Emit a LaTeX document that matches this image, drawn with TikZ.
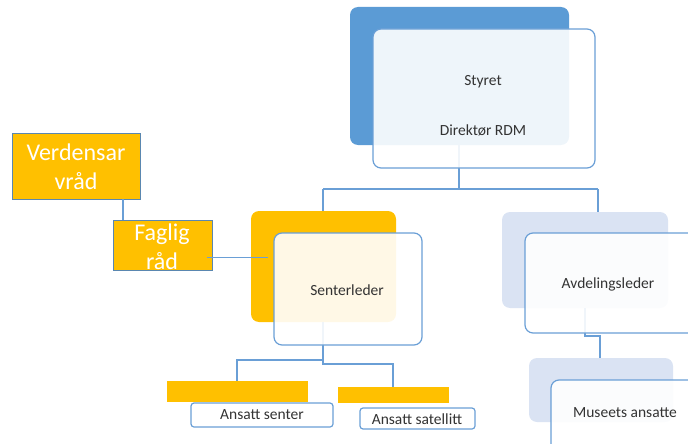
\documentclass[tikz,border=0pt]{standalone}
\usepackage{fontspec}
\setmainfont{Carlito}
\definecolor{dblue}{HTML}{5B9BD5}
\definecolor{lblue}{HTML}{DAE3F3}
\definecolor{gold}{HTML}{FFC000}
\definecolor{edgeblue}{HTML}{6A9FD6}
\definecolor{goldedge}{HTML}{5A87B0}
\definecolor{txt}{HTML}{333333}
\tikzset{
  box/.style={rectangle, inner sep=0pt, outer sep=0pt, anchor=north west},
  backbox/.style={box, rounded corners=8pt, fill=#1},
  frontbox/.style={box, rounded corners=8pt, draw=edgeblue, line width=1.2pt, fill=white, fill opacity=0.9},
  smallbox/.style={box, rounded corners=3pt, draw=edgeblue, line width=1.2pt, fill=white},
  bar/.style={box, fill=gold},
  conn/.style={draw=edgeblue, line width=1.4pt},
  lbl/.style={text=txt, inner sep=0pt, font=\fontsize{15.5}{18}\selectfont},
  gbox/.style={box, fill=gold, draw=goldedge, line width=1pt},
  glbl/.style={text=white, align=center, inner sep=0pt, font=\fontsize{24}{29}\selectfont}
}
\begin{document}
\begin{tikzpicture}[x=1pt,y=-1pt]
\useasboundingbox (0,0) rectangle (688,444);
\clip (0,0) rectangle (688,444);
% connector coordinates
\coordinate (sty) at (459,145);
\coordinate (jl) at (323,189);
\coordinate (jr) at (598,189);
\coordinate (sen) at (323,322);
\coordinate (sl) at (237,360);
\coordinate (sr) at (393,364);
\coordinate (avd) at (585,308);
\coordinate (avj) at (600,336);
% back boxes and bars
\node[backbox=dblue, minimum width=219pt, minimum height=138pt] (styB) at (350,7) {};
\node[backbox=gold, minimum width=145pt, minimum height=111pt] (senB) at (251,211) {};
\node[backbox=lblue, minimum width=166pt, minimum height=96pt] (avdB) at (502,212) {};
\node[backbox=lblue, minimum width=144pt, minimum height=64pt] (musB) at (529,358) {};
\node[bar, minimum width=141pt, minimum height=21pt] (asB) at (167,381) {};
\node[bar, minimum width=111pt, minimum height=16pt] (atB) at (338,387) {};
% connectors
\draw[conn] (sty) -- (sty |- jl);
\draw[conn] (jl) -- (jr);
\draw[conn] (jl) -- (jl |- senB.north);
\draw[conn] (jr) -- (jr |- avdB.north);
\draw[conn] (sen) -- (sen |- sr) -- (sr) -- (sr |- atB.north);
\draw[conn] (sen |- sl) -- (sl) -- (sl |- asB.north);
\draw[conn] (avd) -- (avd |- avj) -- (avj) -- (avj |- musB.north);
% council boxes
\node[gbox, minimum width=128pt, minimum height=66pt] (verB) at (12,133) {};
\node[gbox, minimum width=99pt, minimum height=50pt] (fagB) at (113,220) {};
\draw[conn] (verB.south -| 123,0) -- (fagB.north -| 123,0);
\node[glbl] (verT) at (76,167) {Verdensar\\vråd};
\node[glbl] (fagT) at (162,247) {Faglig\\råd};
\coordinate (fr) at (207,257);
\coordinate (sf) at (268,257);
\draw[conn, line width=1pt] (fr) -- (sf);
% front boxes
\node[frontbox, minimum width=222pt, minimum height=139pt] (styF) at (373,29) {};
\node[frontbox, minimum width=148pt, minimum height=112pt] (senF) at (274,233) {};
\node[frontbox, minimum width=180pt, minimum height=100pt] (avdF) at (525,233) {};
\node[frontbox, minimum width=150pt, minimum height=80pt] (musF) at (551,380) {};
\node[smallbox, minimum width=142pt, minimum height=24pt] (asF) at (191,403) {};
\node[smallbox, minimum width=115pt, minimum height=21pt] (atF) at (360,408) {};
% labels
\node[lbl] (styT) at (483,82) {Styret};
\node[lbl] (dirT) at (483,130) {Direktør RDM};
\node[lbl] (senT) at (347,290) {Senterleder};
\node[lbl] (avdT) at (608,284) {Avdelingsleder};
\node[lbl] (musT) at (625,413) {Museets ansatte};
\node[lbl] (asT) at (262,415) {Ansatt senter};
\node[lbl] (atT) at (417,419) {Ansatt satellitt};
\end{tikzpicture}
\end{document}
